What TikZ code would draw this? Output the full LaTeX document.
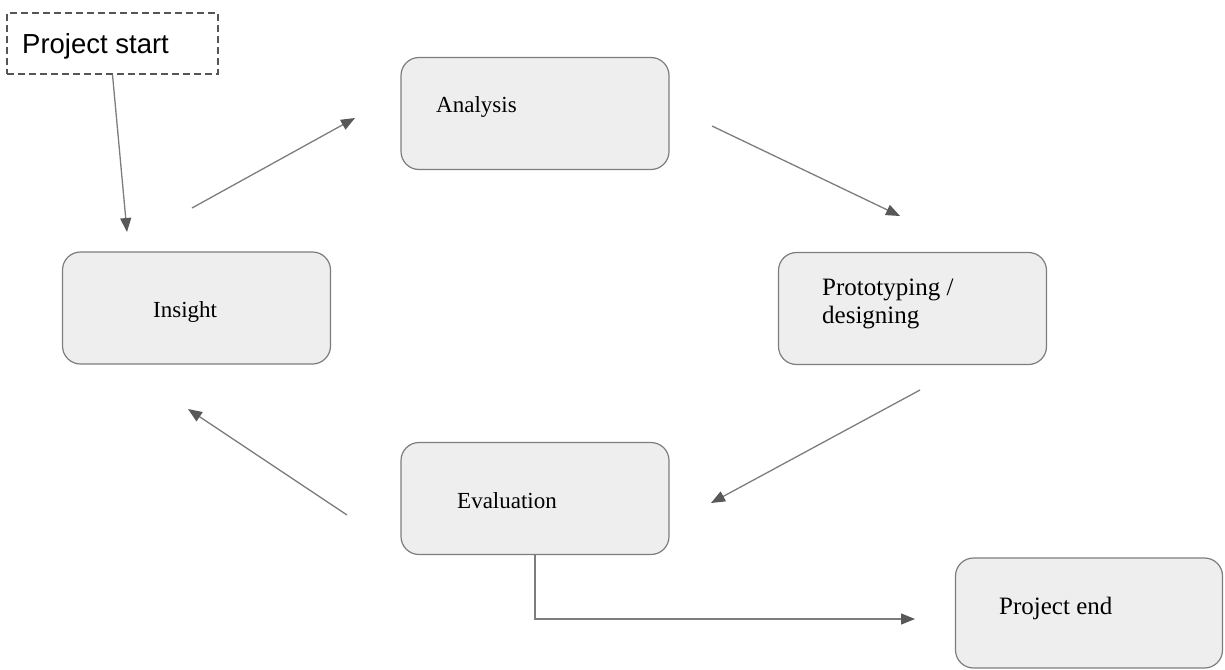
\documentclass[tikz,border=0pt]{standalone}
\usepackage{fontspec}
\setmainfont{Liberation Serif}
\newfontfamily\arialfont{Liberation Sans}
\usetikzlibrary{arrows.meta,calc}
\definecolor{boxfill}{RGB}{238,238,238}
\definecolor{boxline}{RGB}{125,125,125}
\definecolor{arrowgray}{RGB}{125,125,125}
\definecolor{tipgray}{RGB}{88,88,88}
\definecolor{dashgray}{RGB}{85,85,85}
\tikzset{
  stage/.style={draw=boxline, fill=boxfill, line width=1.2pt, rounded corners=18pt,
    minimum width=268pt, minimum height=112pt, inner sep=0pt},
  stagetext/.style={anchor=base west, inner sep=0pt, align=left, text=black,
    font=\fontsize{23}{28}\selectfont},
  flow/.style={arrowgray, line width=1.3pt,
    -{Triangle[length=14pt,width=11pt,color=tipgray]}}
}

\begin{document}
\begin{tikzpicture}[x=1pt,y=-1pt]
\useasboundingbox (0,0) rectangle (1225,669);

% start box, dashed
\node[draw=dashgray, line width=1.3pt, dash pattern=on 7pt off 4pt,
  minimum width=211pt, minimum height=61pt, inner sep=0pt] (start) at (112.5,43.5) {};
\node[anchor=base west, inner sep=0pt, font=\arialfont\fontsize{27.5}{32}\selectfont]
  (start-label) at (22,53) {Project start};

% the cycle
\node[stage] (analysis) at (535,113.5) {};
\node[stage] (insight) at (196.5,308) {};
\node[stage] (proto) at (912.5,308.5) {};
\node[stage] (evaluation) at (535,498.5) {};
\node[stage, minimum width=267pt, minimum height=110pt] (finish) at (1089,613) {};

\node[stagetext] (analysis-label) at (436,112) {Analysis};
\node[stagetext] (insight-label) at (153,317) {Insight};
\node[stagetext, font=\fontsize{25}{28}\selectfont] (proto-label) at (822,323) {Prototyping /\\designing};
\node[stagetext] (evaluation-label) at (457,508) {Evaluation};
\node[stagetext, font=\fontsize{25}{28}\selectfont] (finish-label) at (999,614) {Project end};

% arrow ends
\coordinate (start-tip) at (127,232);
\coordinate (ia-from) at (192,208);
\coordinate (ia-tip) at (355,118);
\coordinate (ap-from) at (712,126);
\coordinate (ap-tip) at (900,216);
\coordinate (pe-from) at (920,390);
\coordinate (pe-tip) at (711,503);
\coordinate (ei-from) at (347,515);
\coordinate (ei-tip) at (188,409);
\coordinate (finish-tip) at (915,619);

\draw[flow] (start.south) -- (start-tip);
\draw[flow] (ia-from) -- (ia-tip);
\draw[flow] (ap-from) -- (ap-tip);
\draw[flow] (pe-from) -- (pe-tip);
\draw[flow] (ei-from) -- (ei-tip);
\draw[flow] (evaluation.south) |- (finish-tip);
\end{tikzpicture}
\end{document}
